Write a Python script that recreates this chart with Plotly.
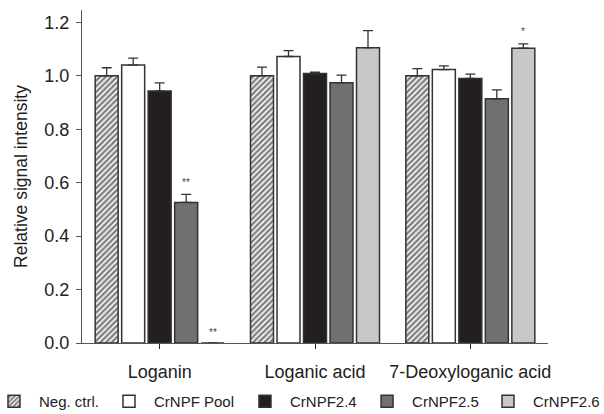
import plotly.graph_objects as go

categories = ["Loganin", "Loganic acid", "7-Deoxyloganic acid"]
series_names = ["Neg. ctrl.", "CrNPF Pool", "CrNPF2.4", "CrNPF2.5", "CrNPF2.6"]

neg_ctrl = [1.00, 1.00, 1.00]
neg_ctrl_err = [0.03, 0.032, 0.027]
pool = [1.04, 1.072, 1.023]
pool_err = [0.026, 0.022, 0.014]
npf24 = [0.943, 1.008, 0.99]
npf24_err = [0.03, 0.005, 0.016]
npf25 = [0.526, 0.974, 0.914]
npf25_err = [0.03, 0.028, 0.033]
npf26 = [0.0, 1.105, 1.103]
npf26_err = [0.0, 0.064, 0.016]

# significance marks: (category index, series index, text, y position)
sig_marks = [(0, 3, "**", 0.60), (0, 4, "**", 0.04), (2, 4, "*", 1.165)]

values = [neg_ctrl, pool, npf24, npf25, npf26]
errors = [neg_ctrl_err, pool_err, npf24_err, npf25_err, npf26_err]

fills = ["white", "white", "#231f20", "#707073", "#c8c8ca"]
patterns = ["/", "", "", "", ""]
legend_x = [-0.1996, 0.0472, 0.339, 0.601, 0.8605]

pitch = 0.1706
bw = 0.148
edge = "#333333"

fig = go.Figure()
legend_ids = ["legend"] + ["legend%d" % (k + 1) for k in range(1, len(series_names))]
for i, (name, vals, errs) in enumerate(zip(series_names, values, errors)):
    xs = [g + (i - 2) * pitch for g in range(len(categories))]
    marker = dict(color=fills[i], line=dict(color=edge, width=1.5))
    if patterns[i]:
        marker["pattern"] = dict(shape=patterns[i], fgcolor="#000000", bgcolor="white",
                                 size=4, solidity=0.62)
    fig.add_trace(go.Bar(
        x=xs, y=vals, width=bw, name=name, marker=marker, legend=legend_ids[i],
        error_y=dict(type="data", array=errs, arrayminus=[0] * len(errs), symmetric=False,
                     color=edge, thickness=1.3, width=5),
    ))

for ci, si, txt, yv in sig_marks:
    fig.add_annotation(x=ci + (si - 2) * pitch, y=yv, text=txt, showarrow=False,
                       font=dict(size=10, color="#444444"), xref="x", yref="y")

legend_layouts = {}
for lid, lx in zip(legend_ids, legend_x):
    legend_layouts[lid] = dict(orientation="h", x=lx, y=-0.176, xanchor="left", yanchor="middle",
                               font=dict(size=15, color="#222222"), itemwidth=40,
                               itemclick=False, itemdoubleclick=False,
                               bgcolor="rgba(0,0,0,0)", borderwidth=0)

fig.update_layout(
    width=604, height=414,
    margin=dict(l=82, r=56, t=10, b=71, autoexpand=False),
    plot_bgcolor="white", paper_bgcolor="white",
    font=dict(family="Liberation Sans, Arial, sans-serif", color="#222222"),
    barmode="overlay",
    showlegend=True,
    xaxis=dict(range=[-0.5, 2.5], tickvals=list(range(len(categories))), ticktext=categories,
               showline=True, linecolor="#555555", linewidth=1.3, ticks="outside",
               ticklen=5, tickcolor="#222222", showgrid=False, zeroline=False,
               tickfont=dict(size=18), ticklabelstandoff=7),
    yaxis=dict(range=[0, 1.246], tickvals=[0, 0.2, 0.4, 0.6, 0.8, 1.0, 1.2], tickformat=".1f",
               showline=True, linecolor="#555555", linewidth=1.3, ticks="outside",
               ticklen=5, tickcolor="#555555", showgrid=False, zeroline=False,
               tickfont=dict(size=18), ticklabelstandoff=3,
               title=dict(text="Relative signal intensity", font=dict(size=17.5), standoff=12)),
    **legend_layouts,
)

fig.write_html("out.html")
